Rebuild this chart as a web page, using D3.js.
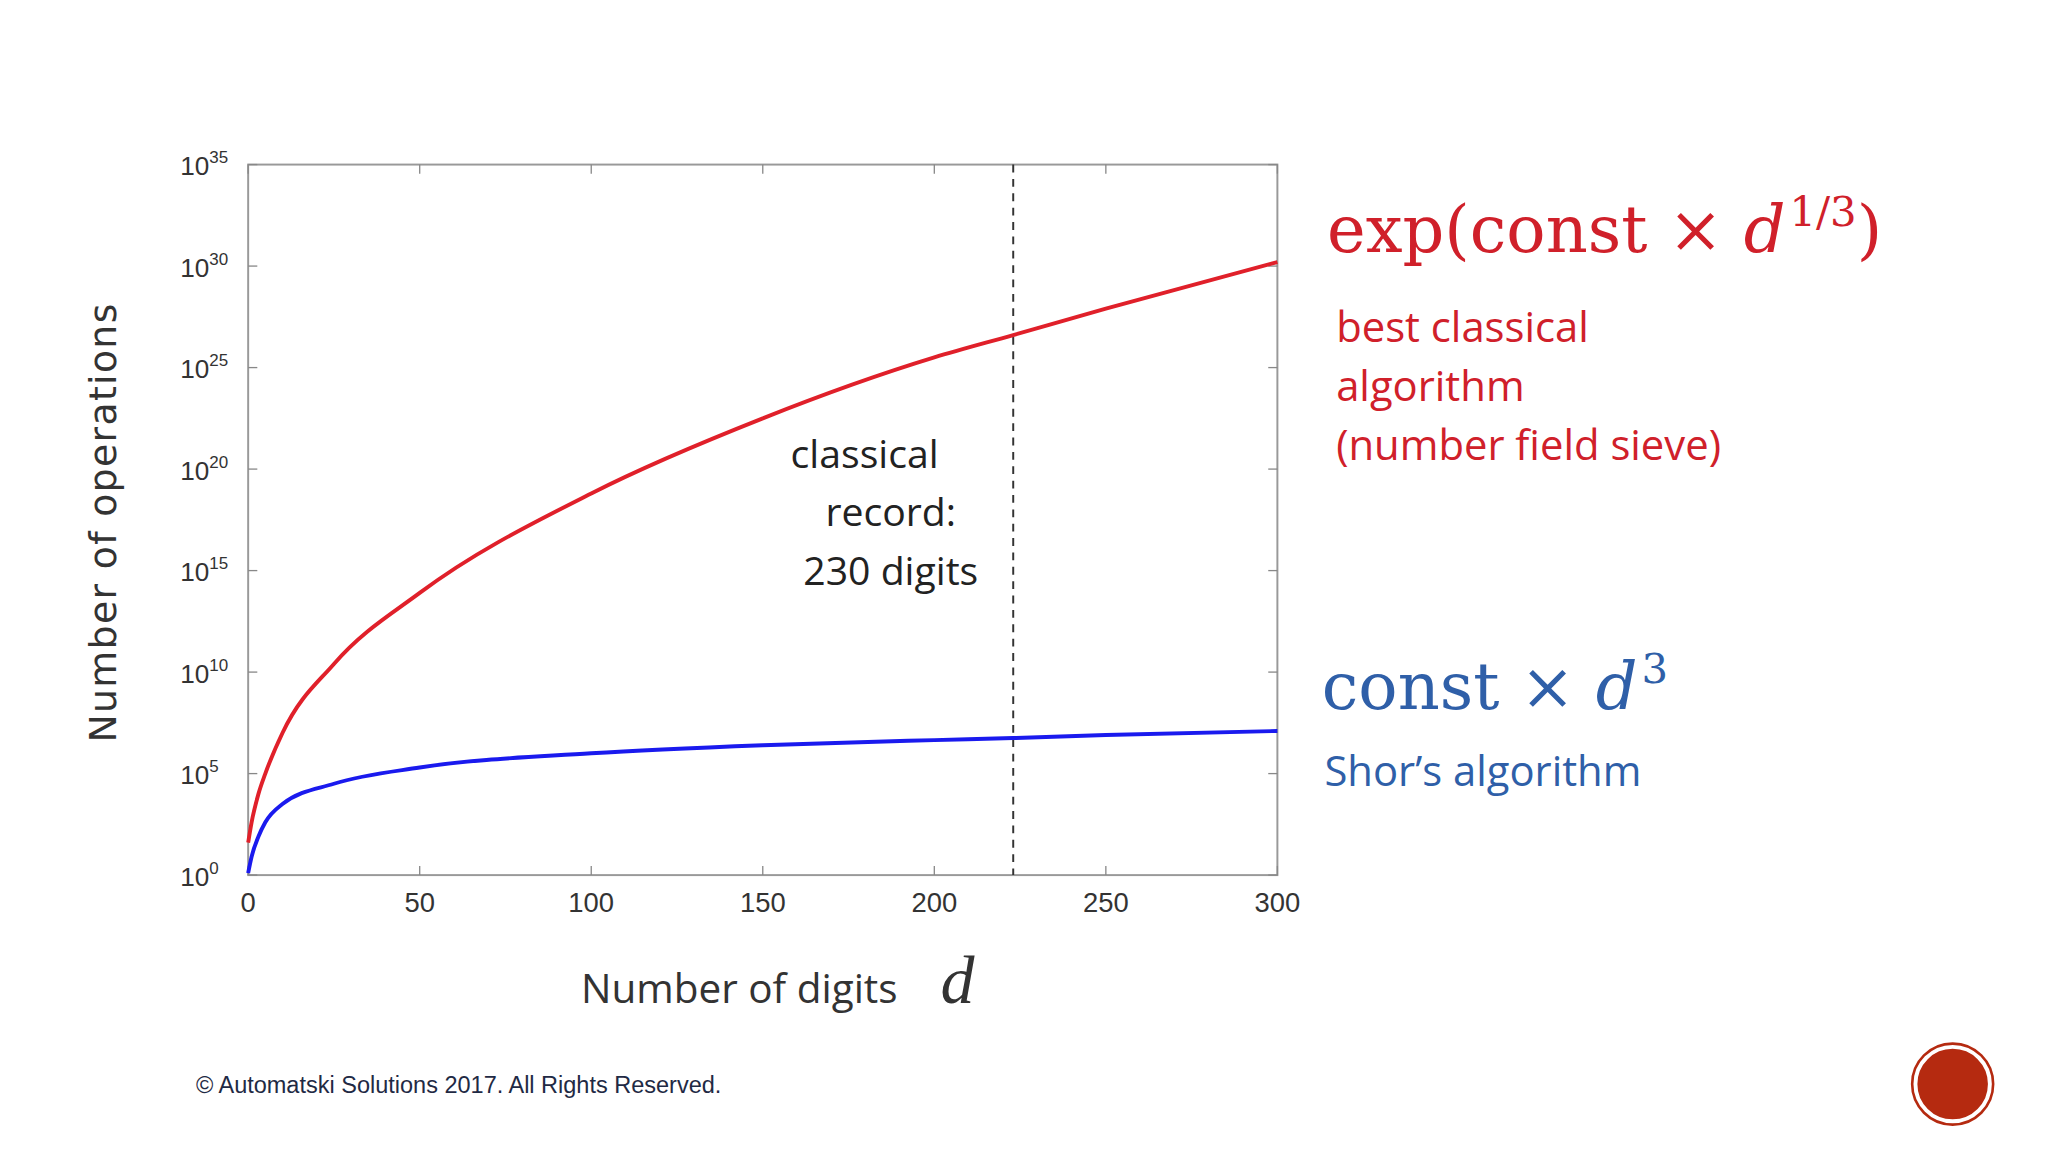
<!DOCTYPE html>
<html><head><meta charset="utf-8">
<script src="https://cdn.jsdelivr.net/npm/d3@7"></script>
<style>body{margin:0;background:#fff}svg{display:block}</style>
</head><body>
<script>
// values (log10 of operation count)
var digits       = [0, 1, 3, 5, 10, 25, 50, 100, 150, 200, 223, 250, 300];
var classicalLog = [1.6, 2.6, 4.0, 5.0, 7.0, 10.4, 13.9, 18.8, 22.5, 25.5, 26.6, 27.9, 30.2];
var shorLog      = [0.1, 0.9, 1.9, 2.6, 3.5, 4.5, 5.3, 6.0, 6.4, 6.65, 6.75, 6.9, 7.1];
var xTicks = [0, 50, 100, 150, 200, 250, 300];
var yTicks = [0, 5, 10, 15, 20, 25, 30, 35];
var recordDigits = 223;

var svg = d3.select("body").append("svg")
  .attr("width", 2048).attr("height", 1152)
  .attr("viewBox", "0 0 1568 882");

var x = d3.scaleLinear().domain([0, 300]).range([190, 978]);
var y = d3.scaleLinear().domain([0, 35]).range([670, 126]);

var g = svg.append("g");
g.append("rect").attr("x", 190).attr("y", 126).attr("width", 788).attr("height", 544)
  .attr("fill", "none").attr("stroke", "#999").attr("stroke-width", 1.5);

// ticks inward, all sides
xTicks.forEach(function(t) {
  g.append("line").attr("x1", x(t)).attr("x2", x(t)).attr("y1", 670).attr("y2", 663).attr("stroke", "#888");
  g.append("line").attr("x1", x(t)).attr("x2", x(t)).attr("y1", 126).attr("y2", 133).attr("stroke", "#888");
  g.append("text").attr("x", x(t)).attr("y", 698).attr("text-anchor", "middle")
    .attr("font-family", "Liberation Sans, Arial").attr("font-size", 21).attr("fill", "#333").text(t);
});
yTicks.forEach(function(t) {
  g.append("line").attr("x1", 190).attr("x2", 197).attr("y1", y(t)).attr("y2", y(t)).attr("stroke", "#888");
  g.append("line").attr("x1", 978).attr("x2", 971).attr("y1", y(t)).attr("y2", y(t)).attr("stroke", "#888");
  var tx = g.append("text").attr("x", 138).attr("y", y(t) + 8)
    .attr("font-family", "Liberation Sans, Arial").attr("font-size", 20).attr("fill", "#333");
  tx.append("tspan").text("10");
  tx.append("tspan").attr("dy", -9).attr("font-size", 13).text(t);
});

// record line
g.append("line").attr("x1", x(recordDigits)).attr("x2", x(recordDigits))
  .attr("y1", 126).attr("y2", 670).attr("stroke", "#333").attr("stroke-width", 1.5)
  .attr("stroke-dasharray", "6,5");

var line = function(vals) {
  return d3.line().x(function(d, i) { return x(digits[i]); })
    .y(function(d) { return y(d); }).curve(d3.curveMonotoneX)(vals);
};
g.append("path").attr("d", line(classicalLog)).attr("fill", "none").attr("stroke", "#e0202a").attr("stroke-width", 3);
g.append("path").attr("d", line(shorLog)).attr("fill", "none").attr("stroke", "#1a1aee").attr("stroke-width", 3);

var txt = function(s, px, py, size, color, fam, anchor) {
  return svg.append("text").attr("x", px).attr("y", py).attr("font-size", size).attr("fill", color)
    .attr("font-family", fam || "Open Sans, Lato, sans-serif").attr("text-anchor", anchor || "start").text(s);
};
txt("classical", 662, 358, 30, "#222", null, "middle");
txt("record:", 682, 403, 30, "#222", null, "middle");
txt("230 digits", 682, 448, 30, "#222", null, "middle");

svg.append("text").attr("transform", "translate(89,400) rotate(-90)").attr("text-anchor", "middle")
  .attr("font-family", "DejaVu Sans, sans-serif").attr("font-size", 29).attr("fill", "#333")
  .attr("letter-spacing", 1).text("Number of operations");

txt("Number of digits", 566, 768, 31, "#333", null, "middle");
txt("d", 733, 768, 52, "#333", "Liberation Serif, serif", "middle").attr("font-style", "italic");

// formulas
var f1 = txt("exp(const × ", 1016, 193, 50, "#d0202a", "DejaVu Serif, serif");
f1.append("tspan").attr("font-style", "italic").text("d");
f1.append("tspan").attr("dy", -20).attr("font-size", 32).attr("dx", 3).text("1/3");
f1.append("tspan").attr("dy", 20).text(")");
txt("best classical", 1023, 262, 32, "#d0202a");
txt("algorithm", 1023, 307, 32, "#d0202a");
txt("(number field sieve)", 1023, 352, 32, "#d0202a");

var f2 = txt("const × ", 1012, 543, 50, "#2f5fa8", "DejaVu Serif, serif");
f2.append("tspan").attr("font-style", "italic").text("d");
f2.append("tspan").attr("dy", -20).attr("font-size", 32).attr("dx", 3).text("3");
txt("Shor’s algorithm", 1014, 602, 32, "#2f5fa8");

txt("© Automatski Solutions 2017. All Rights Reserved.", 150, 837, 18, "#1f2a44", "Liberation Sans, Arial");
svg.append("circle").attr("cx", 1495).attr("cy", 830).attr("r", 28).attr("fill", "#b52a10")
  .attr("stroke", "#fff").attr("stroke-width", 2);
svg.append("circle").attr("cx", 1495).attr("cy", 830).attr("r", 31).attr("fill", "none")
  .attr("stroke", "#b52a10").attr("stroke-width", 2);
</script>
</body></html>
